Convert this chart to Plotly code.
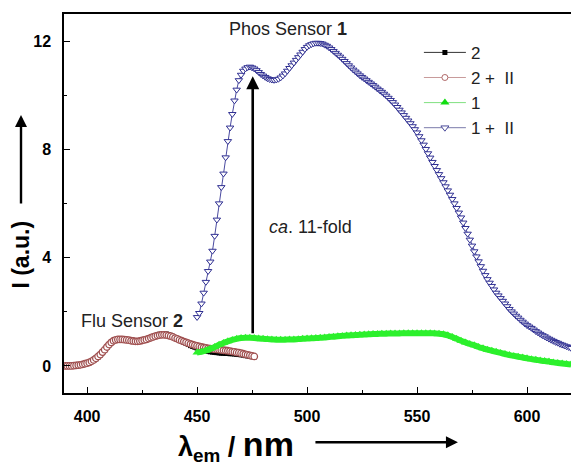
import numpy as np
import plotly.graph_objects as go

# ---------------- data ----------------
wl_2 = list(range(390, 477, 1))
int_2 = [-0.02, -0.02, -0.02, -0.01, 0.00, 0.01, 0.02, 0.03, 0.05, 0.07,
         0.09, 0.12, 0.16, 0.21, 0.26, 0.33, 0.40, 0.49, 0.58, 0.68,
         0.78, 0.86, 0.93, 0.96, 0.98, 0.98, 0.98, 0.97, 0.96, 0.95,
         0.93, 0.92, 0.91, 0.91, 0.92, 0.94, 0.96, 0.99, 1.02, 1.05,
         1.09, 1.12, 1.15, 1.17, 1.18, 1.19, 1.18, 1.16, 1.13, 1.09,
         1.05, 1.00, 0.96, 0.91, 0.87, 0.83, 0.79, 0.75, 0.72, 0.69,
         0.66, 0.63, 0.60, 0.58, 0.56, 0.54, 0.52, 0.51, 0.50, 0.49,
         0.48, 0.47, 0.47, 0.46, 0.46, 0.45, 0.45, 0.44, 0.43, 0.42,
         0.41, 0.40, 0.38, 0.37, 0.35, 0.34, 0.33]
int_2_II = [0.00, 0.00, 0.00, 0.00, 0.01, 0.02, 0.03, 0.04, 0.06, 0.08,
            0.10, 0.13, 0.17, 0.22, 0.28, 0.35, 0.42, 0.51, 0.60, 0.70,
            0.79, 0.87, 0.93, 0.96, 0.98, 0.98, 0.98, 0.97, 0.96, 0.95,
            0.93, 0.92, 0.91, 0.91, 0.92, 0.94, 0.96, 0.98, 1.01, 1.04,
            1.07, 1.10, 1.12, 1.14, 1.15, 1.15, 1.14, 1.12, 1.10, 1.07,
            1.03, 1.00, 0.96, 0.93, 0.90, 0.87, 0.84, 0.81, 0.79, 0.76,
            0.74, 0.72, 0.70, 0.68, 0.67, 0.65, 0.64, 0.63, 0.62, 0.61,
            0.60, 0.59, 0.58, 0.57, 0.56, 0.55, 0.53, 0.52, 0.50, 0.49,
            0.47, 0.45, 0.43, 0.41, 0.39, 0.37, 0.35]
wl_1 = list(range(450, 621, 2))
int_1 = [0.50, 0.52, 0.57, 0.63, 0.70, 0.78, 0.85, 0.91, 0.96, 1.00,
         1.03, 1.04, 1.04, 1.03, 1.01, 1.00, 0.99, 0.98, 0.97, 0.97,
         0.97, 0.98, 0.98, 0.99, 1.00, 1.01, 1.02, 1.03, 1.04, 1.05,
         1.07, 1.08, 1.10, 1.11, 1.12, 1.13, 1.14, 1.15, 1.16, 1.17,
         1.18, 1.18, 1.19, 1.19, 1.20, 1.20, 1.20, 1.21, 1.21, 1.21,
         1.21, 1.21, 1.21, 1.21, 1.20, 1.19, 1.17, 1.13, 1.07, 1.00,
         0.93, 0.87, 0.81, 0.76, 0.70, 0.65, 0.60, 0.56, 0.52, 0.48,
         0.44, 0.40, 0.37, 0.34, 0.31, 0.28, 0.25, 0.23, 0.20, 0.18,
         0.16, 0.13, 0.11, 0.09, 0.07, 0.05]
wl_1_II = list(range(450, 621, 1))
int_1_II = [1.80, 1.95, 2.30, 2.70, 3.10, 3.50, 3.85, 4.25, 4.80, 5.40,
            6.00, 6.60, 7.10, 7.70, 8.30, 8.80, 9.30, 9.80, 10.20, 10.55,
            10.75, 10.90, 10.98, 11.03, 11.05, 11.02, 10.98, 10.92, 10.85, 10.78,
            10.72, 10.67, 10.62, 10.59, 10.57, 10.56, 10.57, 10.60, 10.65, 10.72,
            10.80, 10.90, 11.00, 11.10, 11.20, 11.30, 11.40, 11.50, 11.60, 11.70,
            11.78, 11.84, 11.88, 11.91, 11.93, 11.93, 11.92, 11.90, 11.86, 11.82,
            11.76, 11.70, 11.63, 11.56, 11.49, 11.42, 11.34, 11.26, 11.18, 11.10,
            11.02, 10.94, 10.87, 10.80, 10.73, 10.67, 10.61, 10.55, 10.49, 10.43,
            10.37, 10.31, 10.24, 10.18, 10.12, 10.05, 9.98, 9.90, 9.82, 9.74,
            9.65, 9.56, 9.46, 9.36, 9.26, 9.16, 9.06, 8.96, 8.85, 8.74,
            8.62, 8.48, 8.33, 8.17, 8.01, 7.85, 7.69, 7.53, 7.38, 7.23,
            7.08, 6.93, 6.78, 6.63, 6.48, 6.32, 6.16, 6.00, 5.83, 5.66,
            5.48, 5.29, 5.09, 4.88, 4.66, 4.44, 4.23, 4.04, 3.86, 3.68,
            3.51, 3.35, 3.20, 3.07, 2.95, 2.82, 2.70, 2.60, 2.50, 2.40,
            2.30, 2.20, 2.10, 2.01, 1.93, 1.85, 1.78, 1.70, 1.63, 1.56,
            1.50, 1.45, 1.40, 1.34, 1.28, 1.23, 1.18, 1.13, 1.09, 1.04,
            1.00, 0.96, 0.92, 0.88, 0.85, 0.81, 0.78, 0.75, 0.72, 0.69, 0.66]

series_names = ["2", "2 +\u00a0 II", "1", "1 +\u00a0 II"]
x_range = [389.5, 620.0]
y_range = [-1.0, 13.0]
x_ticks = [400, 450, 500, 550, 600]
y_ticks = [0, 4, 8, 12]
arrow_wl = 475.3
arrow_from = 1.15
arrow_to = 10.7

FONT = "Liberation Sans, Arial, sans-serif"

fig = go.Figure()
# data traces (legend handled by separate legend-only traces)
fig.add_trace(go.Scatter(
    x=wl_2, y=int_2, mode="lines+markers", showlegend=False,
    line=dict(color="black", width=2.5),
    marker=dict(symbol="square", size=5, color="black")))
fig.add_trace(go.Scatter(
    x=wl_2, y=int_2_II, mode="lines+markers", showlegend=False,
    line=dict(color="#a86262", width=1.8),
    marker=dict(symbol="circle", size=6.5, color="white",
                line=dict(color="#a05050", width=1.3))))
fig.add_trace(go.Scatter(
    x=wl_1, y=int_1, mode="lines+markers", showlegend=False,
    line=dict(color="#2cf02c", width=6, shape="spline", simplify=False),
    marker=dict(symbol="triangle-up", size=8, color="#2cf02c")))
fig.add_trace(go.Scatter(
    x=wl_1_II, y=int_1_II, mode="lines+markers", showlegend=False,
    line=dict(color="#4a4aa0", width=1),
    marker=dict(symbol="triangle-down", size=6.5, color="white",
                line=dict(color="#2f2f92", width=1))))

# legend entries
leg_styles = [
    dict(line=dict(color="#333333", width=1),
         marker=dict(symbol="square", size=5, color="black")),
    dict(line=dict(color="#c89a9a", width=1),
         marker=dict(symbol="circle", size=6, color="white",
                     line=dict(color="#b06868", width=1))),
    dict(line=dict(color="#80e080", width=1),
         marker=dict(symbol="triangle-up", size=8, color="#11dd11")),
    dict(line=dict(color="#7a7aaa", width=1),
         marker=dict(symbol="triangle-down", size=7, color="white",
                     line=dict(color="#4a4a9a", width=1))),
]
for name, st in zip(series_names, leg_styles):
    fig.add_trace(go.Scatter(x=[None], y=[None], name=name,
                             mode="lines+markers", **st))

axis_common = dict(
    showgrid=False, zeroline=False, showline=True, linecolor="black",
    linewidth=1.5, ticks="inside", ticklen=6, tickwidth=1.2, tickcolor="black",
    tickfont=dict(family=FONT, size=16, color="black", weight="bold"),
    minor=dict(ticks="inside", ticklen=3.5, tickwidth=1.2, tickcolor="black"),
)
fig.update_xaxes(range=x_range, tickvals=x_ticks, mirror=True,
                 minor_dtick=25, minor_tick0=400, ticklabelstandoff=8,
                 **axis_common)
fig.update_yaxes(range=y_range, tickvals=y_ticks, mirror=False,
                 minor_dtick=2, minor_tick0=0, ticklabelstandoff=8,
                 **axis_common)

ann_font = dict(family=FONT, size=18, color="#222222")
annotations = [
    dict(x=arrow_wl, y=arrow_to, xref="x", yref="y",
         ax=arrow_wl, ay=arrow_from, axref="x", ayref="y",
         showarrow=True, arrowhead=2, arrowsize=1.0, arrowwidth=2.6,
         arrowcolor="black", text=""),
    dict(x=0.442, y=0.96, xref="paper", yref="paper",
         text="Phos Sensor <b>1</b>", showarrow=False, font=ann_font,
         xanchor="center", yanchor="middle"),
    dict(x=0.4, y=0.437, xref="paper", yref="paper",
         text="<i>ca</i>. 11-fold", showarrow=False, font=ann_font,
         xanchor="left", yanchor="middle"),
    dict(x=0.03, y=0.19, xref="paper", yref="paper",
         text="Flu Sensor <b>2</b>", showarrow=False, font=ann_font,
         xanchor="left", yanchor="middle"),
    # y-axis title and arrow
    dict(x=-0.085, y=0.365, xref="paper", yref="paper",
         text="<b>I (a.u.)</b>", textangle=-90, showarrow=False,
         font=dict(family=FONT, size=23, color="black"),
         xanchor="center", yanchor="middle"),
    dict(x=-0.0848, y=0.7335, xref="paper", yref="paper", ax=0, ay=90,
         showarrow=True, arrowhead=2, arrowsize=1, arrowwidth=2.4,
         arrowcolor="black", text=""),
    # x-axis title and arrow
    dict(x=0.34, y=-0.138, xref="paper", yref="paper",
         text="<b>λ<sub>em</sub> / <span style='font-size:34px'>nm</span></b>",
         showarrow=False, font=dict(family=FONT, size=27, color="black"),
         xanchor="center", yanchor="middle"),
    dict(x=0.777, y=-0.13, xref="paper", yref="paper", ax=-144, ay=0,
         showarrow=True, arrowhead=2, arrowsize=1, arrowwidth=2.4,
         arrowcolor="black", text=""),
]

fig.update_layout(
    width=571, height=466,
    margin=dict(l=64, r=0, t=14, b=73),
    paper_bgcolor="white", plot_bgcolor="white",
    showlegend=True,
    legend=dict(x=0.7, y=0.945, xanchor="left", yanchor="top",
                bgcolor="rgba(0,0,0,0)", tracegroupgap=0,
                font=dict(family=FONT, size=17, color="#222222"),
                itemwidth=42),
    annotations=annotations,
)

fig.write_html("out.html")
